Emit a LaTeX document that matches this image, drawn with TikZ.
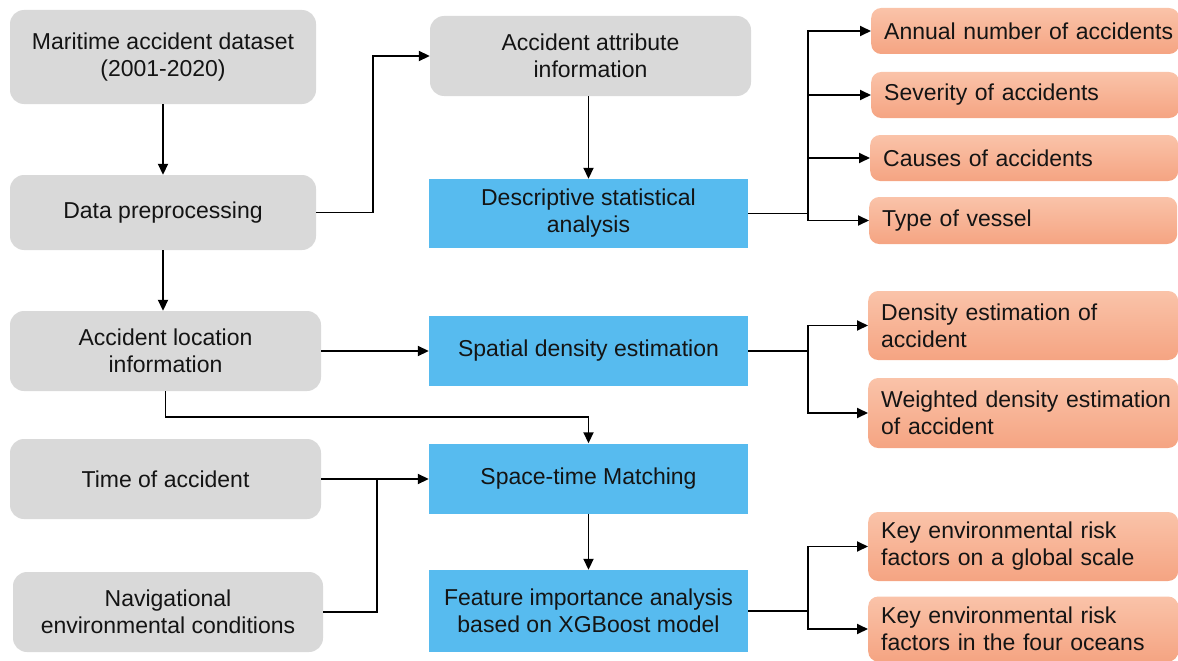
\documentclass[tikz,border=0pt]{standalone}
\usepackage{fontspec}
\setmainfont{Liberation Sans}
\usetikzlibrary{arrows.meta}
\definecolor{boxgray}{HTML}{D9D9D9}
\definecolor{boxblue}{HTML}{57BBEF}
\definecolor{orangetop}{HTML}{FAC3A9}
\definecolor{orangebot}{HTML}{F5A482}
\definecolor{inkcol}{HTML}{141414}

\begin{document}
\begin{tikzpicture}[x=1pt,y=-1pt,
  every node/.style={font=\fontsize{23}{27}\selectfont, text=inkcol},
  graybox/.style={fill=boxgray, rounded corners=14pt, align=center, inner sep=0pt},
  bluebox/.style={fill=boxblue, align=center, inner sep=0pt, minimum width=319pt},
  resultbox/.style={top color=orangetop, bottom color=orangebot, draw=none,
    rounded corners=10pt, align=left, text width=#1, inner xsep=13pt,
    inner ysep=0pt, anchor=west},
  resultbox/.default=282pt,
  link/.style={line width=1.8pt, -{Triangle[length=11pt,width=10pt]}},
  plain/.style={line width=1.8pt}]

\useasboundingbox (0,0) rectangle (1178,661);

% left column: inputs
\node[graybox, minimum width=306pt, minimum height=94pt] (dataset) at (163,57)
  {Maritime accident dataset\\(2001-2020)};
\node[graybox, minimum width=306pt, minimum height=75pt] (prep) at (163,212.5)
  {Data preprocessing};
\node[graybox, minimum width=311pt, minimum height=80pt] (loc) at (165.5,351)
  {Accident location\\information};
\node[graybox, minimum width=311pt, minimum height=80pt] (time) at (165.5,479)
  {Time of accident};
\node[graybox, minimum width=310pt, minimum height=80pt] (nav) at (168,612)
  {Navigational\\environmental conditions};

% middle column: analysis steps
\node[graybox, minimum width=321pt, minimum height=80pt] (attr) at (590.5,56)
  {Accident attribute\\information};
\node[bluebox, minimum height=69pt] (desc) at (588.5,213.5)
  {Descriptive statistical\\analysis};
\node[bluebox, minimum height=70pt] (spatial) at (588.5,351)
  {Spatial density estimation};
\node[bluebox, minimum height=70pt] (match) at (588.5,478.5)
  {Space-time Matching};
\node[bluebox, minimum height=82pt] (xgb) at (588.5,611)
  {Feature importance analysis\\based on XGBoost model};

% right column: results (each line kept unbroken)
\node[resultbox, minimum height=46pt] (annual) at (871,31)
  {\mbox{Annual number of accidents}};
\node[resultbox, minimum height=46pt] (severity) at (871,95)
  {\mbox{Severity of accidents}};
\node[resultbox, minimum height=46pt] (causes) at (870,158)
  {\mbox{Causes of accidents}};
\node[resultbox, minimum height=47pt] (vessel) at (869,220.5)
  {\mbox{Type of vessel}};
\node[resultbox=284pt, minimum height=69pt] (dens) at (868,325.5)
  {\mbox{Density estimation of}\\\mbox{accident}};
\node[resultbox=284pt, minimum height=70pt] (wdens) at (868,413)
  {\mbox{Weighted density estimation}\\\mbox{of accident}};
\node[resultbox=284pt, minimum height=69pt] (keyg) at (868,546.5)
  {\mbox{Key environmental risk}\\\mbox{factors on a global scale}};
\node[resultbox=284pt, minimum height=65pt] (keyo) at (868,629)
  {\mbox{Key environmental risk}\\\mbox{factors in the four oceans}};

% connectors
\draw[link] (dataset.south) -- (dataset.south |- prep.north);
\draw[link] (prep.east) -- ++(57,0) |- (attr.west);
\draw[link] (desc.north |- attr.south) -- (desc.north);

\draw[plain] (desc.east) -- ++(60,0) coordinate (fanA);
\draw[link] (fanA) |- (annual.west);
\draw[link] (fanA) |- (severity.west);
\draw[link] (fanA) |- (causes.west);
\draw[link] (fanA) |- (vessel.west);

\draw[link] (prep.south) -- (prep.south |- loc.north);
\draw[link] (loc.east) -- (loc.east -| spatial.west);

\draw[plain] (spatial.east) -- ++(60,0) coordinate (fanB);
\draw[link] (fanB) |- (dens.west);
\draw[link] (fanB) |- (wdens.west);

\draw[link] (loc.south) -- ++(0,26) -| (match.north);
\draw[link] (time.east) -- (time.east -| match.west);
\coordinate (merge) at (377,479);
\draw[plain] (nav.east) -| (merge);

\draw[link] (match.south) -- (xgb.north);
\draw[plain] (xgb.east) -- ++(60,0) coordinate (fanC);
\draw[link] (fanC) |- (keyg.west);
\draw[link] (fanC) |- (keyo.west);
\end{tikzpicture}
\end{document}
